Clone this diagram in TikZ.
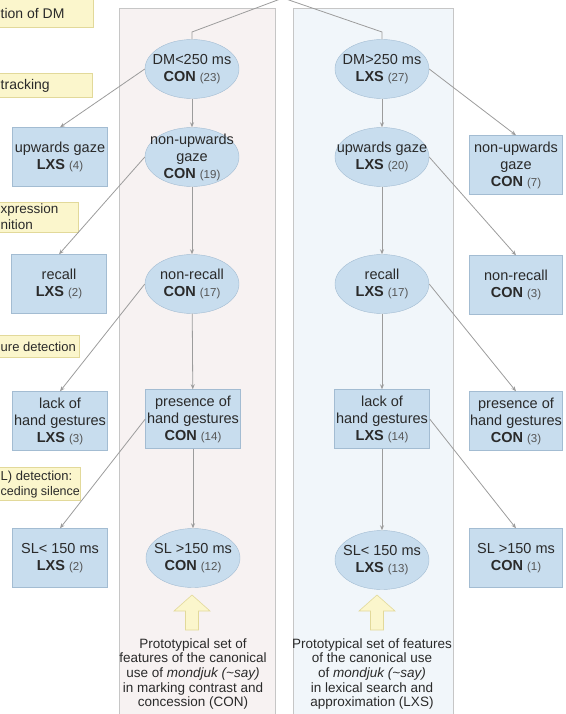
\documentclass[tikz,border=0pt]{standalone}
\usepackage{fontspec}
\setmainfont{Liberation Sans}
\usetikzlibrary{arrows.meta,shapes.geometric}
\definecolor{nodefill}{HTML}{C8DDEE}
\definecolor{nodeline}{HTML}{A3BCD2}
\definecolor{yfill}{HTML}{FBF6CC}
\definecolor{yline}{HTML}{E2D99A}
\definecolor{panelL}{HTML}{F7F2F2}
\definecolor{panelR}{HTML}{F1F6FA}
\definecolor{panelline}{HTML}{C6C6C6}
\definecolor{edgec}{HTML}{9C9C9C}
\definecolor{txtc}{HTML}{2A2A2A}
\definecolor{numc}{HTML}{555555}
\newcommand{\lab}[3]{#1\\\textbf{#2} {\fontsize{11.5}{13}\selectfont\color{numc}(#3)}}
\begin{document}
\begin{tikzpicture}[x=1pt,y=-1pt,
  font=\fontsize{14.5}{17}\selectfont, text=txtc,
  ell/.style={ellipse, draw=nodeline, fill=nodefill, minimum width=94pt, minimum height=59pt, inner xsep=-30pt, inner ysep=-22pt, align=center},
  bx/.style={rectangle, draw=nodeline, fill=nodefill, minimum width=95pt, minimum height=59pt, inner sep=0pt, align=center},
  ybox/.style={draw=yline, fill=yfill},
  ytxt/.style={inner sep=0pt, anchor=west, font=\fontsize{14}{16}\selectfont},
  panelbox/.style={draw=panelline, line width=0.8pt},
  edge/.style={draw=edgec, line width=0.8pt, -{Stealth[length=5pt,width=4pt]}},
  rootline/.style={draw=edgec, line width=0.8pt},
  uparrow/.style={draw=yline, fill=yfill, line width=0.6pt},
  note/.style={align=center, font=\fontsize{13.5}{14.6}\selectfont, inner sep=0pt}
]
\useasboundingbox (0,0) rectangle (565,714);
\clip (0,0) rectangle (565,714);
% panels
\fill[panelL] (119,8) rectangle (275,720);
\draw[panelbox] (119,8) rectangle (275,720);
\fill[panelR] (293,8) rectangle (453,720);
\draw[panelbox] (293,8) rectangle (453,720);

% yellow label boxes on the left
\draw[ybox] (-3,-3) rectangle (93,27);
\node[ytxt] (y1) at (0.5,13) {tion of DM};
\draw[ybox] (-3,73) rectangle (92,97);
\node[ytxt] (y2) at (0.5,86) {tracking};
\draw[ybox] (-3,202) rectangle (78,232);
\node[ytxt, font=\fontsize{13.5}{16}\selectfont] (y3a) at (0.5,210) {xpression};
\node[ytxt, font=\fontsize{13.5}{16}\selectfont] (y3b) at (0.5,225) {nition};
\draw[ybox] (-3,335) rectangle (79,357);
\node[ytxt, font=\fontsize{13}{16}\selectfont] (y4) at (0.5,347) {ure detection};
\draw[ybox] (-3,467) rectangle (80,500);
\node[ytxt, font=\fontsize{13}{16}\selectfont] (y5a) at (0.5,477) {L) detection:};
\node[ytxt, font=\fontsize{12.5}{16}\selectfont] (y5b) at (0.5,492) {ceding silence};

% central columns
\node[ell] (a1) at (192,69) {\lab{DM<250 ms}{CON}{23}};
\node[ell] (a2) at (192,157) {non-upwards\\\lab{gaze}{CON}{19}};
\node[ell] (a3) at (192,284) {\lab{non-recall}{CON}{17}};
\node[bx]  (a4) at (193,419) {presence of\\\lab{hand gestures}{CON}{14}};
\node[ell] (a5) at (193,558) {\lab{SL >150 ms}{CON}{12}};

\node[ell] (b1) at (382,69) {\lab{DM>250 ms}{LXS}{27}};
\node[ell] (b2) at (382,157) {\lab{upwards gaze}{LXS}{20}};
\node[ell] (b3) at (382,284) {\lab{recall}{LXS}{17}};
\node[bx]  (b4) at (382,419) {lack of\\\lab{hand gestures}{LXS}{14}};
\node[ell] (b5) at (382,560) {\lab{SL< 150 ms}{LXS}{13}};

% left boxes
\node[bx] (l1) at (60,157) {\lab{upwards gaze}{LXS}{4}};
\node[bx] (l2) at (59,284) {\lab{recall}{LXS}{2}};
\node[bx] (l3) at (60,421) {lack of\\\lab{hand gestures}{LXS}{3}};
\node[bx] (l4) at (60,558) {\lab{SL< 150 ms}{LXS}{2}};

% right boxes
\node[bx, minimum width=93pt] (r1) at (516,165) {non-upwards\\\lab{gaze}{CON}{7}};
\node[bx, minimum width=93pt] (r2) at (516,285) {\lab{non-recall}{CON}{3}};
\node[bx, minimum width=93pt] (r3) at (516,421) {presence of\\\lab{hand gestures}{CON}{3}};
\node[bx, minimum width=93pt] (r4) at (516,558) {\lab{SL >150 ms}{CON}{1}};

% root lines
\coordinate (root) at (283,-2);
\draw[rootline] (root) -- (192,32) -- (a1.north);
\draw[rootline] (root) -- (382,32) -- (b1.north);

% left tree edges
\draw[edge] (a1) -- (a2);
\draw[edge] (a2) -- (a3);
\draw[edge] (a3) -- (a4);
\draw[edge] (a4) -- (a5);
\draw[edge] (a1.west) -- (l1.north);
\draw[edge] (a2.west) -- (l2.north);
\draw[edge] (a3.west) -- (l3.north);
\draw[edge] (a4.west) -- (l4.north);

% right tree edges
\draw[edge] (b1) -- (b2);
\draw[edge] (b2) -- (b3);
\draw[edge] (b3) -- (b4);
\draw[edge] (b4) -- (b5);
\draw[edge] (b1.east) -- (r1.north);
\draw[edge] (b2.east) -- (r2.north);
\draw[edge] (b3.east) -- (r3.north);
\draw[edge] (b4.east) -- (r4.north);

% yellow up arrows
\draw[uparrow] (185.5,630) -- (198.5,630) -- (198.5,611) -- (210,611) -- (192,595) -- (174,611) -- (185.5,611) -- cycle;
\draw[uparrow] (370.5,630) -- (383.5,630) -- (383.5,611) -- (395,611) -- (377,595) -- (359,611) -- (370.5,611) -- cycle;

% notes
\node[note] (n1) at (193,674) {Prototypical set of\\features of the canonical\\use of \textit{mondjuk (\textasciitilde say)}\\in marking contrast and\\concession (CON)};
\node[note] (n2) at (372,674) {Prototypical set of features\\of the canonical use\\of \textit{mondjuk (\textasciitilde say)}\\in lexical search and\\approximation (LXS)};
\end{tikzpicture}
\end{document}
